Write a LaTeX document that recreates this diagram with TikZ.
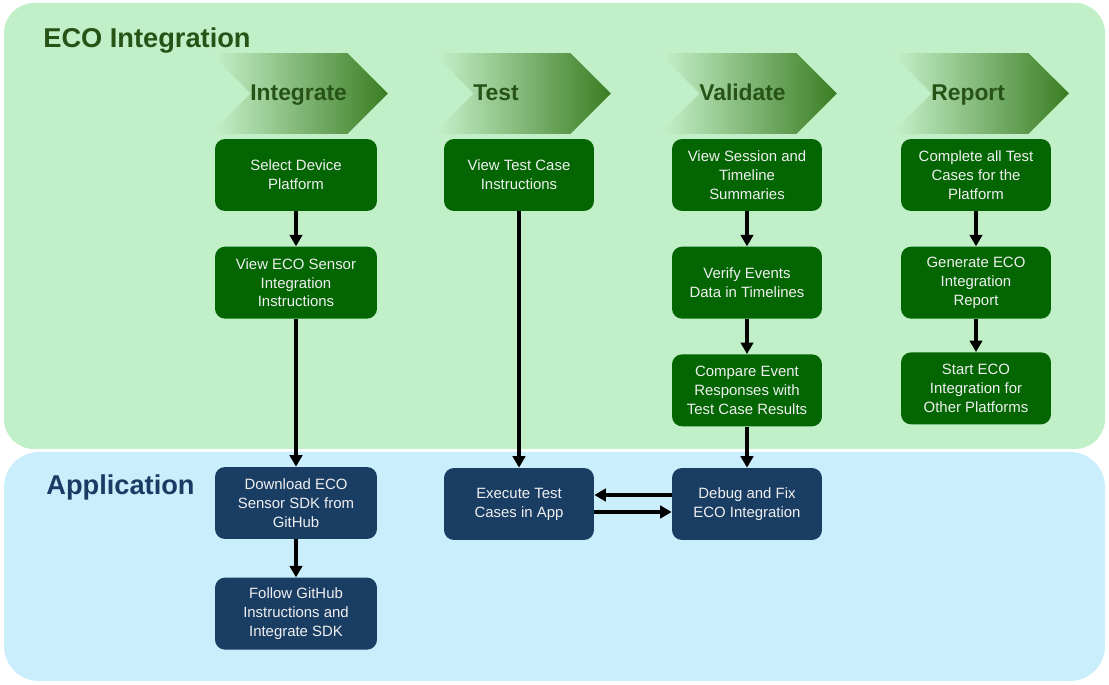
\documentclass[tikz,border=0pt]{standalone}
\usepackage{fontspec}
\setmainfont{Liberation Sans}
\usetikzlibrary{positioning,arrows.meta,shapes.symbols}
\definecolor{cbggreen}{HTML}{C1F0C8}
\definecolor{cbgblue}{HTML}{CAEEFB}
\definecolor{cdkgreen}{HTML}{275317}
\definecolor{cboxgreen}{HTML}{036603}
\definecolor{cboxblue}{HTML}{193D63}
\definecolor{ctitleblue}{HTML}{1A3C64}
\definecolor{cchevL}{HTML}{C9F2CD}
\definecolor{cchevR}{HTML}{3A7D22}
\tikzset{
  phase/.style={signal, signal to=east, signal from=west, signal pointer angle=90, minimum width=3.56cm, minimum height=1.62cm, inner sep=0pt, left color=cchevL, right color=cchevR},
  phasetxt/.style={anchor=base west, inner sep=0pt, text=cdkgreen, font=\fontsize{13}{15}\selectfont\bfseries},
  gbox/.style={fill=cboxgreen, rounded corners=0.2cm, minimum width=3cm, minimum height=1.44cm, align=center, text=white!94!black, font=\fontsize{8.5}{10.8}\selectfont, inner sep=2pt},
  bbox/.style={gbox, fill=cboxblue},
  wide/.style={minimum width=3.24cm},
  sig/.style={-{Triangle[length=2.3mm,width=2.5mm]}, line width=2.2pt},
  lane/.style={anchor=base west, inner sep=0pt, font=\fontsize{15.5}{18}\selectfont\bfseries},
}
\begin{document}
\begin{tikzpicture}[x=0.02cm, y=-0.02cm]
  \useasboundingbox (0,0) rectangle (1109,685);
  % lanes
  \fill[cbggreen, rounded corners=0.6cm] (4,3) rectangle (1105,449);
  \fill[cbgblue, rounded corners=0.7cm] (4,452) rectangle (1105,681);
  \node[lane, text=cdkgreen] (teco) at (43,47.5) {ECO Integration};
  \node[lane, text=ctitleblue] (tapp) at (46,495) {Application};
  % phases
  \foreach \nm/\x/\lbl in {int/210/Integrate, tst/433/Test, val/659/Validate, rep/891/Report}{
    \node[phase] (ch\nm) at (\x+89,93.5) {};
    \node[phasetxt] (lb\nm) at (\x+40,101) {\lbl};
  }
  % integrate
  \node[gbox, wide] (sel) at (296,175) {Select Device\\Platform};
  \node[gbox, wide, below=0.7cm of sel] (viewsdk) {View ECO Sensor\\Integration\\Instructions};
  \node[bbox, wide] (dl) at (296,503) {Download ECO\\Sensor SDK from\\GitHub};
  \node[bbox, wide, below=0.76cm of dl] (follow) {Follow GitHub\\Instructions and\\Integrate SDK};
  % test
  \node[gbox] (vtc) at (519,175) {View Test Case\\Instructions};
  \node[bbox] (exe) at (519,504) {Execute Test\\Cases in App};
  % validate
  \node[gbox] (vss) at (747,175) {View Session and\\Timeline\\Summaries};
  \node[gbox, below=0.7cm of vss] (ver) {Verify Events\\Data in Timelines};
  \node[gbox, below=0.7cm of ver] (cmp) {Compare Event\\Responses with\\Test Case Results};
  \node[bbox] (dbg) at (747,504) {Debug and Fix\\ECO Integration};
  % report
  \node[gbox] (cpl) at (976,175) {Complete all Test\\Cases for the\\Platform};
  \node[gbox, below=0.7cm of cpl] (gen) {Generate ECO\\Integration\\Report};
  \node[gbox, below=0.66cm of gen] (start) {Start ECO\\Integration for\\Other Platforms};
  \draw[sig] (sel) -- (viewsdk);
  \draw[sig] (viewsdk) -- (dl);
  \draw[sig] (dl) -- (follow);
  \draw[sig] (vtc) -- (exe);
  \draw[sig] (vss) -- (ver);
  \draw[sig] (ver) -- (cmp);
  \draw[sig] (cmp) -- (dbg);
  \draw[sig] (cpl) -- (gen);
  \draw[sig] (gen) -- (start);
  \draw[sig] ([yshift=0.18cm]dbg.west) -- ([yshift=0.18cm]exe.east);
  \draw[sig] ([yshift=-0.16cm]exe.east) -- ([yshift=-0.16cm]dbg.west);
\end{tikzpicture}
\end{document}
